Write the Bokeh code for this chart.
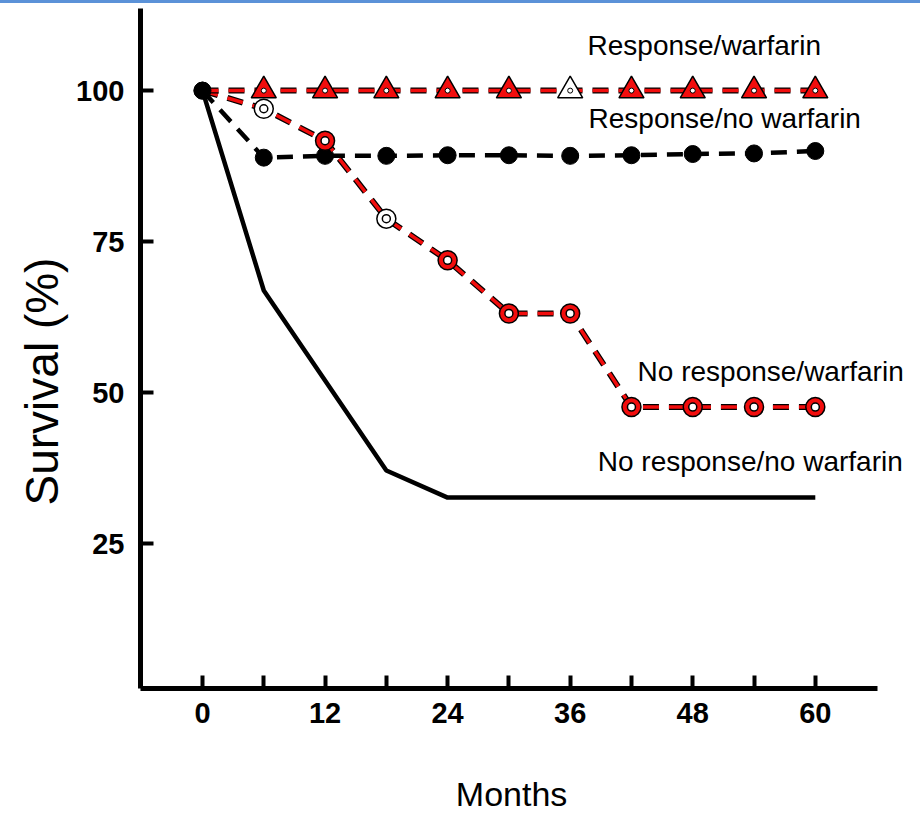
from bokeh.plotting import figure
from bokeh.models import FixedTicker, Label, Title
from bokeh.embed import file_html
from bokeh.resources import INLINE

# ---- data ----
months = [0, 6, 12, 18, 24, 30, 36, 42, 48, 54, 60]
resp_warf = [100, 100, 100, 100, 100, 100, 100, 100, 100, 100, 100]
resp_nowarf = [100, 88.9, 89.2, 89.2, 89.3, 89.3, 89.2, 89.3, 89.5, 89.6, 90.0]
noresp_warf = [100, 97.0, 91.7, 78.8, 71.9, 63.1, 63.1, 47.6, 47.6, 47.6, 47.6]
nr_nw_months = [0, 6, 12, 18, 24, 30, 36, 42, 48, 54, 60]
noresp_nowarf = [100, 66.9, 52.0, 37.1, 32.6, 32.6, 32.6, 32.6, 32.6, 32.6, 32.6]

x_ticks = [0, 6, 12, 18, 24, 30, 36, 42, 48, 54, 60]
x_tick_labels = {0: "0", 12: "12", 24: "24", 36: "36", 48: "48", 60: "60"}
y_ticks = [25, 50, 75, 100]

series_labels = ["Response/warfarin", "Response/no warfarin",
                 "No response/warfarin", "No response/no warfarin"]
label_x = [37.7, 37.8, 42.6, 38.7]
label_y = [107.4, 95.4, 53.5, 38.6]

x_title = "Months"
y_title = "Survival (%)"

RED = "#f20d0d"
# marker fills as printed (a few markers appear unfilled in the original);
# one entry per marker from month 6 to month 60
nrw_fill = ["white", RED, "white", RED, RED, RED, RED, RED, RED, RED]
rw_fill = [RED, RED, RED, RED, RED, "white", RED, RED, RED, RED]
FONT = "Liberation Sans"

p = figure(width=920, height=815, output_backend="svg", toolbar_location=None,
           x_range=(-6.07, 70.3), y_range=(0.99, 113.6),
           min_border_left=140, min_border_right=0, min_border_top=5,
           min_border_bottom=130)
p.styles = {"border-top": "3px solid #5b92d8"}
p.outline_line_color = None
p.xgrid.visible = False
p.ygrid.visible = False
p.background_fill_color = "white"
p.border_fill_color = "white"

# axes
for ax in (p.xaxis[0], p.yaxis[0]):
    ax.axis_line_width = 5
    ax.axis_line_color = "black"
    ax.major_tick_in = 13
    ax.major_tick_out = 0
    ax.major_tick_line_width = 4
    ax.major_tick_line_color = "black"
    ax.minor_tick_line_color = None
    ax.major_label_text_font = FONT
    ax.major_label_text_font_size = "29px"
    ax.major_label_text_font_style = "bold"
    ax.major_label_text_color = "black"

p.xaxis.bounds = (-6.07, 66.07)
p.xaxis.ticker = FixedTicker(ticks=x_ticks)
p.xaxis.major_label_overrides = {t: x_tick_labels.get(t, "") for t in x_ticks}
p.yaxis.ticker = FixedTicker(ticks=y_ticks)
p.xaxis.major_label_standoff = 14
p.yaxis.major_label_standoff = 16

# x title: centred under the drawn axis line (trailing no-break spaces shift
# the centred label left to the middle of the axis line)
p.xaxis.axis_label = x_title + "\u00a0" * 4
p.xaxis.axis_label_text_font = FONT
p.xaxis.axis_label_text_font_size = "34px"
p.xaxis.axis_label_text_font_style = "normal"
p.xaxis.axis_label_text_color = "black"
p.xaxis.axis_label_standoff = 49

p.add_layout(Title(text=y_title, text_font=FONT, text_font_size="46px",
                   text_font_style="normal", text_color="black",
                   align="left", offset=183, standoff=12), "left")

# No response / no warfarin: solid black
p.line(nr_nw_months, noresp_nowarf, line_color="black", line_width=4.5)

# Response / no warfarin: black dashed, filled black circles
p.line(months, resp_nowarf, line_color="black", line_width=4.5, line_dash="16 10")
p.scatter(months, resp_nowarf, marker="circle", size=17, fill_color="black",
          line_color="black")

# No response / warfarin: red dashed with black edge, open red circles
p.line(months, noresp_warf, line_color="black", line_width=6, line_dash="16 10")
p.line(months, noresp_warf, line_color=RED, line_width=3.5, line_dash="16 10")
p.scatter(months[1:], noresp_warf[1:], marker="circle", size=19, fill_color=nrw_fill,
          line_color="black", line_width=1.5)
p.scatter(months[1:], noresp_warf[1:], marker="circle", size=8, fill_color="white",
          line_color="black", line_width=1.5)

# Response / warfarin: red dashed with black edge, red triangles
p.line(months, resp_warf, line_color="black", line_width=6, line_dash="16 10")
p.line(months, resp_warf, line_color=RED, line_width=3.5, line_dash="16 10")
p.scatter(months[1:], resp_warf[1:], marker="triangle", size=25, fill_color=rw_fill,
          line_color="black", line_width=1.5)
p.scatter(months[1:], resp_warf[1:], marker="circle", size=5, fill_color="white",
          line_color="black", line_width=1)

# start point
p.scatter([months[0]], [resp_nowarf[0]], marker="circle", size=17,
          fill_color="black", line_color="black")

for t, lx, ly in zip(series_labels, label_x, label_y):
    p.add_layout(Label(x=lx, y=ly, text=t, text_font=FONT, text_font_size="28px",
                       text_color="black", text_align="left",
                       text_baseline="middle"))

open("out.html", "w").write(file_html(p, INLINE))
